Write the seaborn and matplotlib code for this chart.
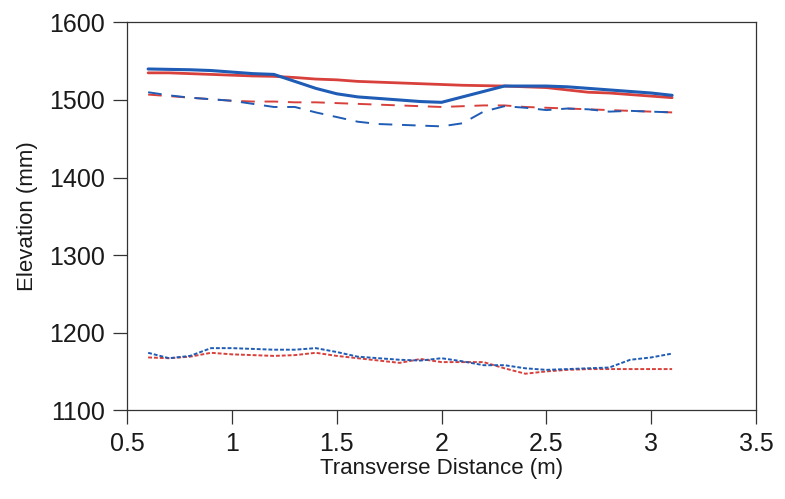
import numpy as np
import pandas as pd
import seaborn as sns
import matplotlib.pyplot as plt

# transverse positions (m)
dist = [0.6, 0.7, 0.8, 0.9, 1.0, 1.1, 1.2, 1.3, 1.4, 1.5, 1.6, 1.7, 1.8,
        1.9, 2.0, 2.1, 2.2, 2.3, 2.4, 2.5, 2.6, 2.7, 2.8, 2.9, 3.0, 3.1]

# elevations (mm)
blue_solid = [1540, 1539.5, 1539, 1538, 1536, 1534, 1533, 1524, 1515, 1508, 1504, 1502, 1500,
              1498, 1497, 1504, 1511, 1518, 1518, 1518, 1517, 1515, 1513, 1511, 1509, 1506]
red_solid = [1535, 1535, 1534, 1533, 1532, 1531, 1530.5, 1529, 1527, 1526, 1524, 1523, 1522,
             1521, 1520, 1519, 1518.5, 1518, 1517, 1516, 1513, 1510, 1509, 1507, 1505, 1503]
blue_dash = [1510, 1506, 1503, 1501, 1499, 1495, 1491, 1491, 1484, 1478, 1472, 1469, 1468,
             1467, 1466, 1470, 1485, 1492, 1490, 1487, 1489, 1488, 1485, 1486, 1485, 1484]
red_dash = [1507, 1505, 1503, 1501, 1499, 1498, 1498, 1497, 1497, 1496, 1495, 1494, 1493,
            1492, 1491, 1492, 1493, 1493, 1491, 1490, 1489, 1488, 1487, 1486, 1485, 1484]
blue_dot = [1174, 1167, 1170, 1180, 1180, 1179, 1178, 1178, 1180, 1175, 1169, 1167, 1165,
            1164, 1167, 1163, 1158, 1158, 1154, 1152, 1153, 1154, 1155, 1165, 1168, 1173]
red_dot = [1168, 1167, 1169, 1174, 1172, 1171, 1170, 1171, 1174, 1170, 1167, 1164, 1161,
           1166, 1162, 1162, 1162, 1154, 1147, 1150, 1152, 1153, 1153, 1153, 1153, 1153]

sns.set_style('white')
plt.rcParams['font.family'] = ['Liberation Sans', 'DejaVu Sans']

RED = '#d8403c'
BLUE = '#1f5cb5'

fig = plt.figure(figsize=(7.85, 4.99), dpi=100)
ax = fig.add_axes([0.162, 0.178, 0.801, 0.777])

series = [
    (red_solid, RED, '-', 2.0, None),
    (blue_solid, BLUE, '-', 2.2, None),
    (red_dash, RED, '--', 1.4, (7, 5)),
    (blue_dash, BLUE, '--', 1.4, (7, 5)),
    (red_dot, RED, ':', 1.4, (2, 1)),
    (blue_dot, BLUE, ':', 1.4, (2, 1)),
]
for vals, col, ls, lw, dash in series:
    df = pd.DataFrame({'x': dist, 'y': vals})
    sns.lineplot(data=df, x='x', y='y', color=col, linewidth=lw, ax=ax)
    if dash is not None:
        ax.lines[-1].set_dashes(dash)

ax.set_xlim(0.5, 3.5)
ax.set_ylim(1100, 1600)
ax.set_xticks([0.5, 1, 1.5, 2, 2.5, 3, 3.5])
ax.set_xticklabels(['0.5', '1', '1.5', '2', '2.5', '3', '3.5'])
ax.set_yticks([1100, 1200, 1300, 1400, 1500, 1600])

for s in ax.spines.values():
    s.set_color('#333333')
    s.set_linewidth(0.9)
ax.tick_params(axis='both', direction='out', length=10, width=0.9, color='#333333',
               labelsize=18, labelcolor='#1a1a1a', left=True, bottom=True, pad=6)

ax.set_xlabel('Transverse Distance (m)', fontsize=16, color='#1a1a1a', labelpad=1)
ax.set_ylabel('Elevation (mm)', fontsize=16, color='#1a1a1a', labelpad=8)

fig.savefig('out.png', dpi=100)
